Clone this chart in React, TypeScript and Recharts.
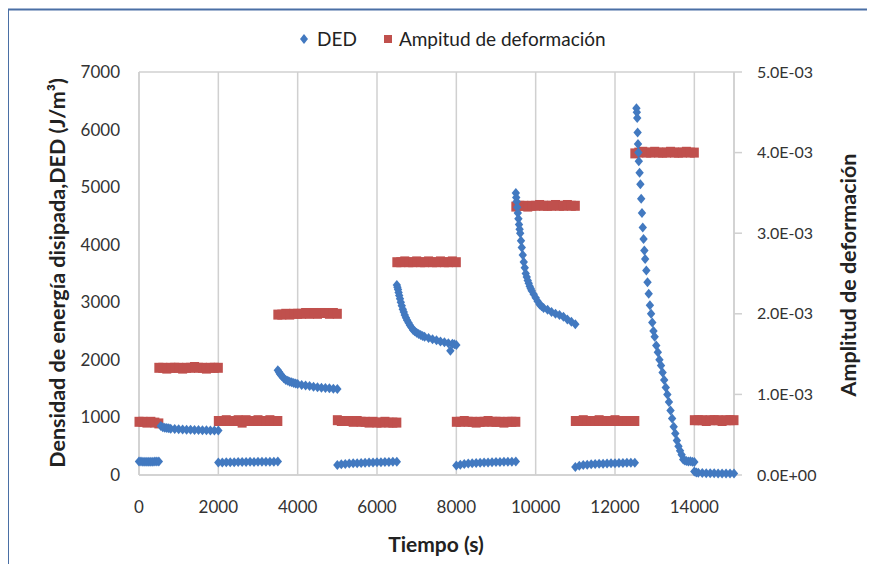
import React from 'react';
import { ScatterChart, Scatter, XAxis, YAxis, CartesianGrid, Label } from 'recharts';

// DED (J/m3) vs time (s)
const ded0: [number, number][] = [[0,235],[50,233],[100,230],[150,231],[200,232],[250,230],[300,228],[350,231],[400,233],[450,234],[500,236]];
const ded1: [number, number][] = [[550,850],[600,830],[650,822],[700,815],[750,810],[800,805],[900,800],[1000,795],[1100,792],[1200,788],[1300,785],[1400,783],[1500,780],[1600,778],[1700,776],[1800,775],[1900,773],[2000,772]];
const ded2: [number, number][] = [[2000,215],[2100,218],[2200,220],[2300,222],[2400,223],[2500,225],[2600,224],[2700,226],[2800,228],[2900,227],[3000,229],[3100,230],[3200,231],[3300,230],[3400,232],[3500,233]];
const ded3: [number, number][] = [[3500,1820],[3530,1790],[3550,1760],[3580,1740],[3600,1720],[3650,1680],[3700,1650],[3750,1635],[3800,1620],[3850,1610],[3900,1600],[3950,1590],[4000,1580],[4100,1565],[4200,1555],[4300,1545],[4400,1535],[4500,1525],[4600,1515],[4700,1510],[4800,1505],[4900,1500],[5000,1495]];
const ded4: [number, number][] = [[5000,175],[5100,185],[5200,192],[5300,198],[5400,202],[5500,206],[5600,210],[5700,212],[5800,215],[5900,218],[6000,220],[6100,222],[6200,224],[6300,226],[6400,228],[6500,230]];
const ded5: [number, number][] = [[6500,3300],[6515,3260],[6530,3220],[6545,3170],[6560,3120],[6580,3060],[6600,3000],[6625,2940],[6650,2880],[6675,2830],[6700,2780],[6730,2730],[6760,2690],[6795,2645],[6830,2600],[6870,2560],[6910,2520],[6950,2495],[7000,2470],[7050,2450],[7100,2430],[7150,2415],[7200,2400],[7300,2380],[7400,2360],[7500,2340],[7600,2320],[7700,2305],[7800,2290],[7850,2160],[7900,2280],[7950,2270],[8000,2260]];
const ded6: [number, number][] = [[8000,165],[8100,180],[8200,190],[8300,198],[8400,204],[8500,208],[8600,212],[8700,215],[8800,218],[8900,221],[9000,224],[9100,226],[9200,228],[9300,230],[9400,232],[9500,234]];
const ded7: [number, number][] = [[9500,4900],[9510,4820],[9520,4750],[9535,4650],[9550,4550],[9565,4450],[9580,4350],[9595,4270],[9610,4200],[9630,4070],[9650,3950],[9675,3820],[9700,3700],[9725,3600],[9750,3500],[9775,3440],[9800,3380],[9825,3330],[9850,3280],[9875,3240],[9900,3200],[9950,3140],[10000,3080],[10050,3020],[10100,2960],[10150,2930],[10200,2900],[10300,2870],[10400,2830],[10500,2800],[10600,2780],[10700,2750],[10800,2700],[10900,2660],[11000,2620]];
const ded8: [number, number][] = [[11000,140],[11100,160],[11200,172],[11300,180],[11400,186],[11500,190],[11600,194],[11700,197],[11800,200],[11900,203],[12000,205],[12100,207],[12200,209],[12300,211],[12400,212],[12500,214]];
const ded9: [number, number][] = [[12540,6370],[12550,6300],[12560,6200],[12570,5950],[12580,5750],[12590,5600],[12600,5450],[12620,5250],[12640,5050],[12660,4800],[12680,4550],[12700,4300],[12720,4100],[12740,3900],[12760,3750],[12790,3550],[12820,3350],[12850,3150],[12880,2950],[12910,2800],[12940,2650],[12970,2500],[13000,2400],[13040,2250],[13080,2130],[13120,2000],[13160,1900],[13200,1780],[13240,1650],[13280,1520],[13320,1400],[13360,1270],[13400,1120],[13440,980],[13480,840],[13520,720],[13560,600],[13600,500],[13640,420],[13680,350],[13720,270],[13760,250],[13800,245],[13850,235],[13900,240],[13950,230],[14000,225]];
const ded10: [number, number][] = [[14000,60],[14050,45],[14100,40],[14200,35],[14300,32],[14400,30],[14500,30],[14600,28],[14700,28],[14800,27],[14900,27],[15000,26]];

// Amplitud de deformación vs time (s)
const amp0: [number, number][] = [[0,0.00066],[100,0.00066],[200,0.00065],[300,0.00066],[400,0.00065],[500,0.00064]];
const amp1: [number, number][] = [[500,0.00133],[600,0.00133],[700,0.00132],[800,0.00133],[900,0.00133],[1000,0.00133],[1100,0.00132],[1200,0.00133],[1300,0.00133],[1400,0.00134],[1500,0.00133],[1600,0.00133],[1700,0.00132],[1800,0.00133],[1900,0.00133],[2000,0.00133]];
const amp2: [number, number][] = [[2000,0.00067],[2100,0.00067],[2200,0.00068],[2300,0.00067],[2400,0.00067],[2500,0.00068],[2600,0.00065],[2700,0.00068],[2800,0.00067],[2900,0.00067],[3000,0.00068],[3100,0.00067],[3200,0.00067],[3300,0.00068],[3400,0.00067],[3500,0.00067]];
const amp3: [number, number][] = [[3500,0.00199],[3600,0.00199],[3700,0.002],[3800,0.00199],[3900,0.002],[4000,0.002],[4100,0.002],[4200,0.00201],[4300,0.002],[4400,0.00201],[4500,0.002],[4600,0.00201],[4700,0.00201],[4800,0.002],[4900,0.00201],[5000,0.002]];
const amp4: [number, number][] = [[5000,0.00068],[5100,0.00067],[5200,0.00067],[5300,0.00067],[5400,0.00066],[5500,0.00067],[5600,0.00066],[5700,0.00066],[5800,0.00065],[5900,0.00066],[6000,0.00065],[6100,0.00065],[6200,0.00066],[6300,0.00065],[6400,0.00065],[6500,0.00065]];
const amp5: [number, number][] = [[6500,0.00264],[6600,0.00264],[6700,0.00265],[6800,0.00264],[6900,0.00264],[7000,0.00265],[7100,0.00264],[7200,0.00264],[7300,0.00265],[7400,0.00264],[7500,0.00264],[7600,0.00265],[7700,0.00264],[7800,0.00264],[7900,0.00265],[8000,0.00264]];
const amp6: [number, number][] = [[8000,0.00066],[8100,0.00066],[8200,0.00067],[8300,0.00066],[8400,0.00066],[8500,0.00065],[8600,0.00066],[8700,0.00066],[8800,0.00067],[8900,0.00066],[9000,0.00066],[9100,0.00066],[9200,0.00065],[9300,0.00066],[9400,0.00066],[9500,0.00066]];
const amp7: [number, number][] = [[9500,0.00333],[9600,0.00334],[9700,0.00334],[9800,0.00333],[9900,0.00334],[10000,0.00334],[10100,0.00335],[10200,0.00334],[10300,0.00334],[10400,0.00334],[10500,0.00335],[10600,0.00334],[10700,0.00334],[10800,0.00335],[10900,0.00334],[11000,0.00334]];
const amp8: [number, number][] = [[11000,0.00067],[11100,0.00067],[11200,0.00068],[11300,0.00067],[11400,0.00067],[11500,0.00067],[11600,0.00068],[11700,0.00067],[11800,0.00067],[11900,0.00067],[12000,0.00068],[12100,0.00067],[12200,0.00067],[12300,0.00067],[12400,0.00067],[12500,0.00067]];
const amp9: [number, number][] = [[12500,0.00399],[12600,0.004],[12700,0.00401],[12800,0.004],[12900,0.004],[13000,0.00401],[13100,0.004],[13200,0.004],[13300,0.004],[13400,0.00401],[13500,0.004],[13600,0.004],[13700,0.004],[13800,0.00401],[13900,0.004],[14000,0.004]];
const amp10: [number, number][] = [[14000,0.00068],[14100,0.00068],[14200,0.00068],[14300,0.00067],[14400,0.00068],[14500,0.00068],[14600,0.00068],[14700,0.00067],[14800,0.00068],[14900,0.00068],[15000,0.00068]];

const xTicks = [0, 2000, 4000, 6000, 8000, 10000, 12000, 14000];
const leftTicks = [0, 1000, 2000, 3000, 4000, 5000, 6000, 7000];
const rightTicks = [0, 0.001, 0.002, 0.003, 0.004, 0.005];

const dedData = [ded0, ded1, ded2, ded3, ded4, ded5, ded6, ded7, ded8, ded9, ded10].flat().map(([t, v]) => ({ t, v }));
const ampData = [amp0, amp1, amp2, amp3, amp4, amp5, amp6, amp7, amp8, amp9, amp10].flat().map(([t, v]) => ({ t, v }));

const BLUE = '#4279c0';
const RED = '#c0504d';
const FONT = 'Lato, "Open Sans", sans-serif';
const TXT = '#333';
const GRID = '#d0d0d0';
const FRAME = '#4a6fa5';

const fmtExp = (v: number) => {
  const [m, e] = v.toExponential(1).split('e');
  const n = parseInt(e, 10);
  return m + 'E' + (n < 0 ? '-' : '+') + String(Math.abs(n)).padStart(2, '0');
};

const Diamond = (p: any) => {
  const { cx, cy } = p;
  if (cx == null || cy == null) return null;
  return <path d={`M${cx},${cy - 5}L${cx + 4.2},${cy}L${cx},${cy + 5}L${cx - 4.2},${cy}Z`} fill={BLUE} />;
};
const Square = (p: any) => {
  const { cx, cy } = p;
  if (cx == null || cy == null) return null;
  return <rect x={cx - 4.5} y={cy - 5} width={9} height={10} fill={RED} />;
};

export default function App() {
  return (
    <div style={{ position: 'relative', width: 875, height: 564, margin: '-8px 0 0 -8px', fontFamily: FONT, background: '#fff' }}>
      <div style={{ position: 'absolute', left: 0, top: 0 }}>
        <ScatterChart width={875} height={564} margin={{ top: 72, right: 0, bottom: 0, left: 0 }}>
          <CartesianGrid stroke={GRID} strokeWidth={1.5} />
          <XAxis
            type="number"
            dataKey="t"
            domain={[0, 15000]}
            ticks={xTicks}
            height={89}
            tickLine={false}
            tickSize={0}
            tickMargin={26}
            axisLine={{ stroke: GRID, strokeWidth: 1.5 }}
            tick={{ fill: TXT, fontSize: 17, fontFamily: FONT }}
            interval={0}
          >
            <Label
              content={() => (
                <text x={436} y={552} textAnchor="middle" fontSize={21} fontWeight={700} fill="#222" fontFamily={FONT}>
                  Tiempo (s)
                </text>
              )}
            />
          </XAxis>
          <YAxis
            yAxisId="left"
            type="number"
            dataKey="v"
            domain={[0, 7000]}
            ticks={leftTicks}
            width={139}
            tickLine={false}
            tickSize={6}
            tickMargin={13}
            axisLine={{ stroke: GRID, strokeWidth: 1.5 }}
            tick={{ fill: TXT, fontSize: 17, fontFamily: FONT }}
            interval={0}
          >
            <Label
              content={() => (
                <text x={57} y={273} transform="rotate(-90 57 273)" textAnchor="middle" dominantBaseline="central" fontSize={21.5} fontWeight={700} fill="#222" fontFamily={FONT}>
                  Densidad de energía disipada,DED (J/m³)
                </text>
              )}
            />
          </YAxis>
          <YAxis
            yAxisId="right"
            orientation="right"
            type="number"
            dataKey="v"
            domain={[0, 0.005]}
            ticks={rightTicks}
            width={141}
            tickSize={8}
            tickMargin={15}
            tickLine={{ stroke: GRID, strokeWidth: 1.5 }}
            axisLine={{ stroke: GRID, strokeWidth: 1.5 }}
            tick={{ fill: TXT, fontSize: 16, fontFamily: FONT, textAnchor: 'start' }}
            tickFormatter={fmtExp}
            interval={0}
          >
            <Label
              content={() => (
                <text x={848} y={275} transform="rotate(-90 848 275)" textAnchor="middle" dominantBaseline="central" fontSize={21.5} fontWeight={700} fill="#222" fontFamily={FONT}>
                  Amplitud de deformación
                </text>
              )}
            />
          </YAxis>
          <Scatter yAxisId="right" data={ampData} shape={Square} isAnimationActive={false} />
          <Scatter yAxisId="left" data={dedData} shape={Diamond} isAnimationActive={false} />
        </ScatterChart>
      </div>
      <div style={{ position: 'absolute', left: 299, top: 27, display: 'flex', alignItems: 'center', fontSize: 19, color: '#222', whiteSpace: 'nowrap', pointerEvents: 'none' }}>
        <svg width={10} height={12} style={{ marginRight: 8 }}><path d="M5,1L9,6L5,11L1,6Z" fill={BLUE} /></svg>
        <span>DED</span>
        <svg width={10} height={10} style={{ marginLeft: 26, marginRight: 6 }}><rect x={1} y={1} width={8} height={8} fill={RED} /></svg>
        <span>Ampitud de deformación</span>
      </div>
      <svg width={875} height={564} style={{ position: 'absolute', left: 0, top: 0, pointerEvents: 'none', zIndex: 5 }}>
        <path d="M8,564 L8,9.5 L875,9.5" stroke={FRAME} strokeWidth={2} fill="none" />
      </svg>
    </div>
  );
}
